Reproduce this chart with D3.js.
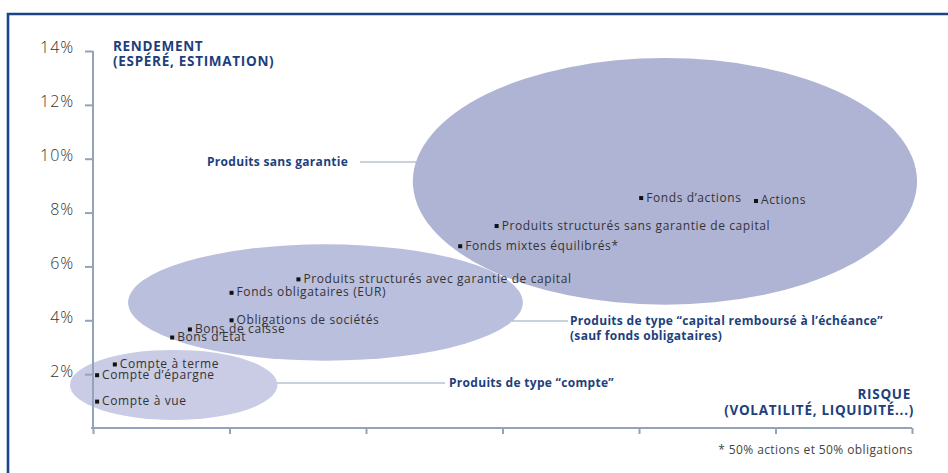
<!DOCTYPE html>
<html>
<head>
<meta charset="utf-8">
<script src="https://cdn.jsdelivr.net/npm/d3@7"></script>
<style>
  html, body { margin: 0; padding: 0; background: #fff; }
  svg { display: block; }
</style>
</head>
<body>
<svg id="chart" width="948" height="473"></svg>
<script>
// ---------- data ----------
const yTicks = [2, 4, 6, 8, 10, 12, 14];
const yTickLabels = ["2%", "4%", "6%", "8%", "10%", "12%", "14%"];
const xTicks = [0, 1, 2, 3, 4, 5, 6];

const productNames = [
  "Compte à vue", "Compte d’épargne", "Compte à terme", "Bons d’Etat",
  "Bons de caisse", "Obligations de sociétés", "Fonds obligataires (EUR)",
  "Produits structurés avec garantie de capital", "Fonds mixtes équilibrés*",
  "Produits structurés sans garantie de capital", "Fonds d’actions", "Actions"
];
const productRisk   = [0.03, 0.03, 0.16, 0.58, 0.71, 1.015, 1.015, 1.505, 2.69, 2.957, 4.016, 4.857];
const productReturn = [0.98, 1.96, 2.36, 3.36, 3.66, 4.0, 5.02, 5.52, 6.75, 7.5, 8.54, 8.43];

const groupNames = ["Produits sans garantie", "Produits de type “capital remboursé à l’échéance”", "Produits de type “compte”"];
const groupSubNames = ["", "(sauf fonds obligataires)", ""];
const groupCenterRisk = [4.19, 1.703, 0.591];
const groupCenterReturn = [9.16, 4.66, 1.60];
const groupRadiusRisk = [1.847, 1.446, 0.760];
const groupRadiusReturn = [4.58, 2.16, 1.30];

const yTitle = ["RENDEMENT", "(ESPÉRÉ, ESTIMATION)"];
const xTitle = ["RISQUE", "(VOLATILITÉ, LIQUIDITÉ...)"];
const footnote = "* 50% actions et 50% obligations";

// ---------- drawing ----------
const svg = d3.select("#chart");
const axisColor = "#93a3b8";
const titleColor = "#1e3f7c";
const labelFont = "'Open Sans', sans-serif";

const x = d3.scaleLinear().domain([0, 6]).range([93, 912]);
const y = d3.scaleLinear().domain([0, 14]).range([428, 51]);

// frame
svg.append("path")
  .attr("d", "M8,480 L8,14 L960,14")
  .attr("fill", "none").attr("stroke", "#1c4486").attr("stroke-width", 2.6);

// ellipses
const ellColors = ["#b0b4d4", "#babfdd", "#c9cce4"];
svg.append("g").selectAll("ellipse").data(groupNames).join("ellipse")
  .attr("cx", (d, i) => x(groupCenterRisk[i]))
  .attr("cy", (d, i) => y(groupCenterReturn[i]))
  .attr("rx", (d, i) => x(groupRadiusRisk[i]) - x(0))
  .attr("ry", (d, i) => y(0) - y(groupRadiusReturn[i]))
  .attr("fill", (d, i) => ellColors[i]);

// y axis
const yAxis = d3.axisLeft(y).tickValues(yTicks).tickSize(8).tickPadding(11)
  .tickFormat((d, i) => yTickLabels[i]);
const gy = svg.append("g").attr("transform", `translate(${x(0)},0)`).call(yAxis);
gy.select(".domain").attr("d", `M0,${y(14)}V${y(0)}`).attr("stroke", axisColor).attr("stroke-width", 2);
gy.selectAll(".tick line").attr("stroke", axisColor).attr("stroke-width", 2);
gy.selectAll(".tick text").attr("fill", "#333").attr("font-family", labelFont)
  .attr("font-size", 16).attr("font-weight", 300).attr("letter-spacing", 0.9).attr("dy", "0.12em");

// x axis
const xAxis = d3.axisBottom(x).tickValues(xTicks).tickSize(6).tickFormat("");
const gx = svg.append("g").attr("transform", `translate(0,${y(0)})`).call(xAxis);
gx.select(".domain").attr("d", `M${x(0) - 2},0H${x(6)}`).attr("stroke", axisColor).attr("stroke-width", 2);
gx.selectAll(".tick line").attr("stroke", axisColor).attr("stroke-width", 2);

// axis titles
const yt = svg.append("text").attr("x", 113).attr("y", 51)
  .attr("fill", titleColor).attr("font-family", labelFont).attr("font-weight", 700)
  .attr("font-size", 13.5).attr("letter-spacing", 0.7);
yTitle.forEach((t, i) => yt.append("tspan").attr("x", 113).attr("dy", i ? 15 : 0).text(t));

const xt = svg.append("text").attr("x", 913).attr("y", 399).attr("text-anchor", "end")
  .attr("fill", titleColor).attr("font-family", labelFont).attr("font-weight", 700)
  .attr("font-size", 13.5).attr("letter-spacing", 0.7);
xTitle.forEach((t, i) => xt.append("tspan").attr("x", i ? 914 : 911).attr("dy", i ? 15.5 : 0).text(t));

// footnote
svg.append("text").attr("x", 913).attr("y", 454).attr("text-anchor", "end")
  .attr("fill", "#444").attr("font-family", labelFont).attr("font-size", 12)
  .attr("letter-spacing", 0.4).text(footnote);

// group annotations
const annot = [
  { line: [360, 416, 162], tx: 207, ty: 166 },
  { line: [512, 568, 321], tx: 570, ty: 325 },
  { line: [277, 445, 383], tx: 449, ty: 387 }
];
annot.forEach((a, i) => {
  svg.append("line").attr("x1", a.line[0]).attr("x2", a.line[1]).attr("y1", a.line[2]).attr("y2", a.line[2])
    .attr("stroke", axisColor).attr("stroke-width", 1.2);
  const t = svg.append("text").attr("x", a.tx).attr("y", a.ty)
    .attr("fill", titleColor).attr("font-family", labelFont).attr("font-weight", 700)
    .attr("font-size", 12).attr("letter-spacing", 0.3);
  t.append("tspan").attr("x", a.tx).text(groupNames[i]);
  if (groupSubNames[i]) t.append("tspan").attr("x", a.tx).attr("dy", 15).text(groupSubNames[i]);
});

// points
const pts = svg.append("g");
pts.selectAll("rect").data(productNames).join("rect")
  .attr("x", (d, i) => x(productRisk[i]) - 2)
  .attr("y", (d, i) => y(productReturn[i]) - 2)
  .attr("width", 4).attr("height", 4).attr("fill", "#111");
pts.selectAll("text").data(productNames).join("text")
  .attr("x", (d, i) => x(productRisk[i]) + 5)
  .attr("y", (d, i) => y(productReturn[i]) + 3.5)
  .attr("fill", "#333").attr("font-family", labelFont).attr("font-size", 12)
  .attr("letter-spacing", 0.6)
  .text(d => d);
</script>
</body>
</html>
